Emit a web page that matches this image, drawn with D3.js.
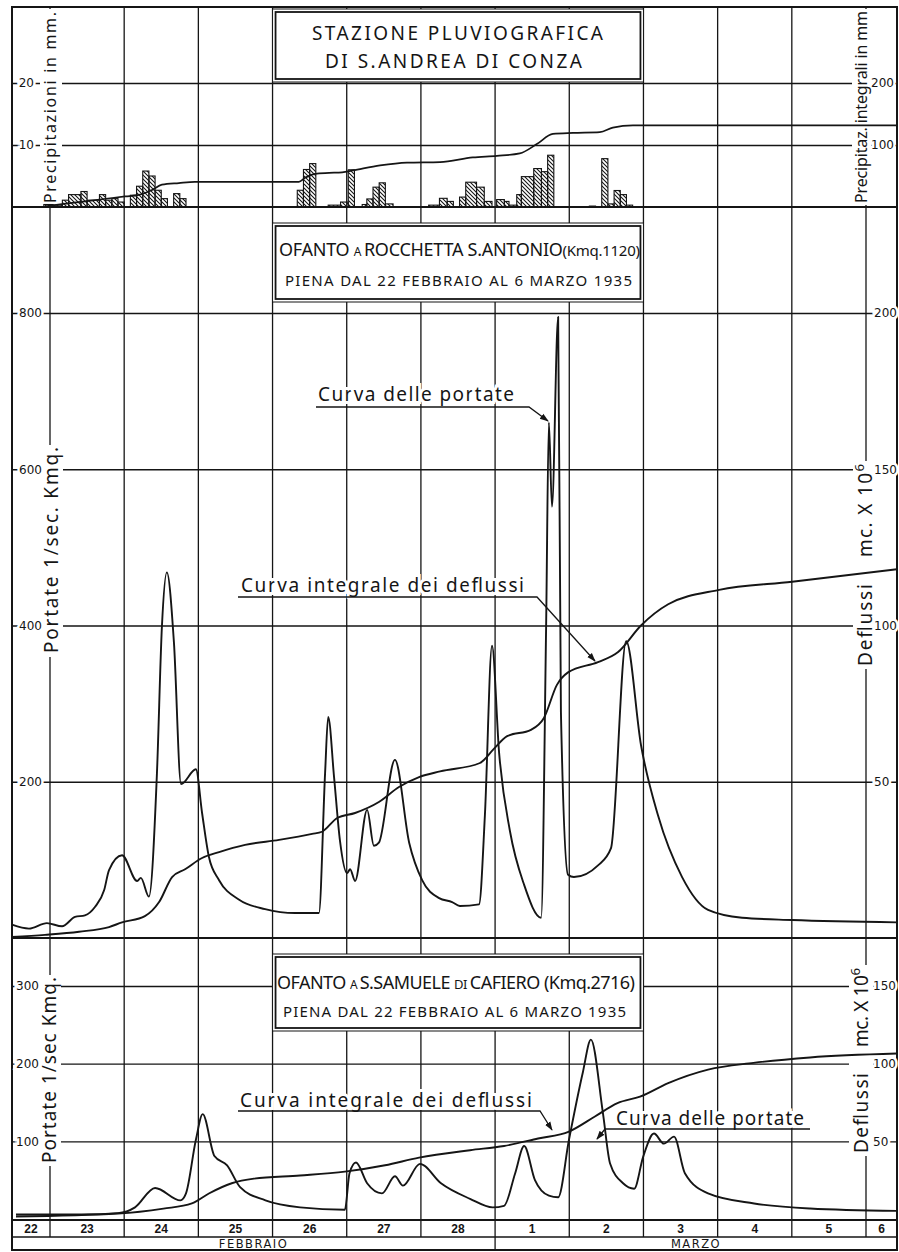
<!DOCTYPE html>
<html><head><meta charset="utf-8">
<script src="https://cdn.jsdelivr.net/npm/d3@7"></script>
<style>body{margin:0;background:#fff}svg{display:block}</style>
</head><body>
<svg id="c" width="899" height="1252"></svg>
<script>
// ---------- DATA (time in hours counted from 22 Feb 1935, 00:00) ----------
const dayLabels = ["22","23","24","25","26","27","28","1","2","3","4","5","6"];
const dayStarts = [0,24,48,72,96,120,144,168,192,216,240,264,288];
const monthLabels = ["FEBBRAIO","MARZO"];
const monthStarts = [0,168];

const rainTicks = [10,20];            // mm
const rainCumTicks = [100,200];       // mm integral
const rocchettaTicks = [200,400,600,800];     // l/sec Kmq
const rocchettaVolTicks = [50,100,150,200];   // mc x 10^6
const samueleTicks = [100,200,300];
const samueleVolTicks = [50,100,150];

// precipitation bars (S. Andrea di Conza)
const rainFrom = [22,25,28,30,34,36,40,42,44,46,50,52,54,56,58,60,64,66,104,106,108,114,118,120.5,125,126.5,128.5,130.5,132.5,146.5,150,152.5,156.5,158.5,162,164.5,168.5,171,172.5,175,176.5,180.5,183,185,198.5,202.5,204.5,206.5,208.5,210.5];
const rainTo   = [25,28,30,34,36,40,42,44,46,48,52,54,56,58,60,62,66,68,106,108,110,118,120.5,122.5,126.5,128.5,130.5,132.5,135,150,152.5,154.5,158.5,162,164.5,167,171,172.5,175,176.5,180.5,183,185,187,200.5,204.5,206.5,208.5,210.5,212.5];
const rainMm   = [0.4,0.3,1.1,2.0,2.5,1.1,2.0,1.1,1.35,0.8,1.9,3.35,5.8,5.0,2.7,1.35,2.16,1.35,2.7,6.05,7.0,0.3,0.8,6.0,0.4,1.3,3.2,3.9,0.5,0.3,1.4,0.9,1.6,4.0,3.2,0.9,1.2,0.9,0.3,2.0,4.9,6.2,5.7,8.35,0.15,7.8,0.5,2.66,2.0,0.3];

// integral precipitation
const rainCumHour = [22.4,28.5,36.6,44.1,48.3,52.8,57,60.2,65.7,70.9,104.5,106.5,109.7,114.3,118.5,122,130.8,139.5,150.2,160.8,168.6,176,181.5,186.7,193.2,201.9,206.1,212.6,298];
const rainCumMm   = [1,5,10,14.5,17,19.5,27.5,36,38.6,40.4,40.4,47,53.5,55,56,59,67,71.5,72.5,80,82.5,86.5,101.5,118,119.5,120.7,128,131.5,131.5];

// Ofanto a Rocchetta S. Antonio: discharge (l/sec Kmq)
const rocchettaFlowHour = [11.7,17.2,23,27.9,32.1,35.3,38.6,41.5,43.1,47.3,52.2,53.4,56,58.6,60.2,61.8,64.1,66.4,71.2,73.2,75.4,78.7,85.2,93.6,103.3,111,113,114,115.9,117.8,120.1,121.1,122.7,126.6,128.8,130.4,135.6,140.2,144.4,149.9,154.1,156.6,162.8,164.7,167,169.3,172.8,177.4,182.9,184.5,185.4,186.4,188.4,189.3,191.6,193.5,201.3,205.5,210.4,215.2,220.7,228.5,236.9,247.9,264.1,298];
const rocchettaFlow     = [17,12,19,15,27,29,40,61,87,106,73,77,53,211,398,468,378,197,216,160,104,74,49,37,32,32,211,283,206,125,83,88,73,164,118,122,228,122,74,51,46,41,43,157,374,237,137,68,26,396,660,552,795,289,81,78,93,115,380,247,157,78,36,26,23,20];
// integral runoff (mc x 10^6)
const rocchettaVolHour = [11.7,22.4,33.4,43.1,47.3,54.7,59.3,63.5,67.7,73.2,78.7,87.1,98.1,108.8,112,116.9,122.7,130.4,136.9,143.4,150.2,163.1,167.6,171.9,179.6,183.8,188,191.6,201.3,207.8,215.2,224,240.5,264.1,298];
const rocchettaVol     = [0.3,1,2,3.5,5,7,11.5,19.5,22,25.6,27.5,29.8,31.4,33.3,34,38.4,40,43.5,48.3,51.5,53.3,56,60.5,64.6,66.6,70.4,81,85,88.3,91.5,100,106.8,111.4,114,118];

// Ofanto a S. Samuele di Cafiero
const samueleFlowHour = [13,35,46,51.5,58,66.2,68,71.2,73.4,77.2,81.3,85.5,93.7,104.9,119.4,120.9,123,126.6,131.4,135.6,138.2,143.7,150.5,159.9,167.2,170.9,174.5,177.4,180.9,185.4,188.4,191.9,196.4,199,202.9,205.2,209.4,213,215.9,219.4,222.6,225.9,229.4,236.9,251.8,269.9,298];
const samueleFlow     = [5.8,5.8,7.5,15,40,24,33,102,135,81,69,41,24,15,12,59,72.7,46,33,55,43,71,46,26,15,17,59,94,50,30,28,102,189,231,136,71.5,46,39,80,110,97,106,59,33,20,13.5,10.4];
const samueleVolHour = [13,46,60.7,69.9,75.4,82.8,90,104.9,119.4,132.4,143.4,159.9,170.9,181.9,191.9,200.3,207.6,214.9,224,236.9,251.6,269.9,298];
const samueleVol     = [1.6,3.5,6.7,10,16.4,23,26,28,30.5,34.6,39.5,44.3,47,51.8,56.3,66,74.6,78.8,87.5,96.2,100.5,104,106.5];

// ---------- LAYOUT ----------
const ink = "#151515";
const L = 12, R = 897, T = 7, B = 1250;
const yTopBase = 207, yMidBase = 938, yDayTop = 1220, yDayMid = 1237;
const sans = "'Noto Sans','DejaVu Sans',sans-serif";

const x = d3.scaleLinear().domain([24, 288]).range([50, 866]);
const yRain = d3.scaleLinear().domain([0, 20]).range([yTopBase, 83]);
const yRainCum = d3.scaleLinear().domain([0, 200]).range([yTopBase, 83]);
const yR = d3.scaleLinear().domain([0, 800]).range([yMidBase, 313]);
const yRV = d3.scaleLinear().domain([0, 200]).range([yMidBase, 313]);
const yS = d3.scaleLinear().domain([0, 300]).range([1219, 986]);
const ySV = d3.scaleLinear().domain([0, 150]).range([1219, 986]);

const svg = d3.select("#c");
svg.append("rect").attr("width",899).attr("height",1252).attr("fill","#fff");
const defs = svg.append("defs");
const pat = defs.append("pattern").attr("id","hatch").attr("patternUnits","userSpaceOnUse").attr("width",4).attr("height",4);
pat.append("path").attr("d","M-1,-1L5,5M-1,3L1,5M3,-1L5,1").attr("stroke",ink).attr("stroke-width",1.1);
const mk = defs.append("marker").attr("id","arrow").attr("viewBox","0 0 10 10").attr("refX",9).attr("refY",5)
  .attr("markerWidth",9).attr("markerHeight",9).attr("markerUnits","userSpaceOnUse").attr("orient","auto");
mk.append("path").attr("d","M0,1.5L10,5L0,8.5Z").attr("fill",ink);

const gGrid = svg.append("g");
const gMask = svg.append("g");
const gData = svg.append("g");
const gText = svg.append("g");

// vertical day lines
gGrid.append("g").selectAll("line").data(dayStarts.filter(d => d > 0)).join("line")
  .attr("x1", d => x(d)).attr("x2", d => x(d))
  .attr("y1", T).attr("y2", d => monthStarts.includes(d) ? B : yDayMid)
  .attr("stroke", ink).attr("stroke-width", 1.3);

// horizontal grid lines through axes
function grid(scale, ticks) {
  const g = gGrid.append("g").attr("transform", `translate(${L},0)`)
    .call(d3.axisLeft(scale).tickValues(ticks).tickSize(-(R - L)).tickFormat(""));
  g.select(".domain").remove();
  g.selectAll(".tick line").attr("stroke", ink).attr("stroke-width", 1.3);
}
grid(yRain, rainTicks);
grid(yR, rocchettaTicks);
grid(yS, samueleTicks);

// panel separators
[[yTopBase,2],[yMidBase,2.2],[yDayTop,2],[yDayMid,1.6]].forEach(([yy,w]) =>
  gGrid.append("line").attr("x1",L).attr("x2",R).attr("y1",yy).attr("y2",yy).attr("stroke",ink).attr("stroke-width",w));

// white backgrounds for rotated axis titles
function mask(x0,y0,x1,y1){ gMask.append("rect").attr("x",x0).attr("y",y0).attr("width",x1-x0).attr("height",y1-y0).attr("fill","#fff"); }
mask(40,9,62,205);     // Precipitazioni
mask(852,9,871,205);   // Precipitaz. integrali
mask(39,445,63,657);   // Portate (Rocchetta)
mask(853,461,877,669); // Deflussi (Rocchetta)
mask(37,975,61,1166);  // Portate (Samuele)
mask(849,965,873,1156);// Deflussi (Samuele)

// title boxes
function box(y0,y1){
  const x0 = x(96), x1 = x(216);
  gMask.append("rect").attr("x",x0).attr("y",y0).attr("width",x1-x0).attr("height",y1-y0).attr("fill","#fff").attr("stroke",ink).attr("stroke-width",1);
  gMask.append("rect").attr("x",x0+3).attr("y",y0+3).attr("width",x1-x0-6).attr("height",y1-y0-6).attr("fill","none").attr("stroke",ink).attr("stroke-width",1.8);
}
box(9,82); box(223,302); box(954,1031);

// frame
gMask.append("rect").attr("x",L).attr("y",T).attr("width",R-L).attr("height",B-T).attr("fill","none").attr("stroke",ink).attr("stroke-width",2);

// ---------- DATA MARKS ----------
const rain = rainMm.map((v,i) => ({a: rainFrom[i], b: rainTo[i], v}));
gData.append("g").selectAll("rect").data(rain).join("rect")
  .attr("x", d => x(d.a)).attr("width", d => x(d.b) - x(d.a))
  .attr("y", d => yRain(d.v)).attr("height", d => yRain(0) - yRain(d.v))
  .attr("fill","url(#hatch)").attr("stroke",ink).attr("stroke-width",1.1);

function curve(hours, vals, ys, w) {
  const pts = hours.map((h,i) => [h, vals[i]]);
  gData.append("path").datum(pts)
    .attr("d", d3.line().x(d => x(d[0])).y(d => ys(d[1])).curve(d3.curveMonotoneX))
    .attr("fill","none").attr("stroke",ink).attr("stroke-width",w).attr("stroke-linejoin","round");
}
curve(rainCumHour, rainCumMm, yRainCum, 1.7);
curve(rocchettaFlowHour, rocchettaFlow, yR, 1.9);
curve(rocchettaVolHour, rocchettaVol, yRV, 1.9);
curve(samueleFlowHour, samueleFlow, yS, 1.9);
curve(samueleVolHour, samueleVol, ySV, 1.9);

// ---------- TICK LABELS (axes) ----------
function tickLabels(scale, ticks, xPos, side) {
  const ax = (side === "left" ? d3.axisLeft(scale) : d3.axisRight(scale)).tickValues(ticks).tickSize(0).tickPadding(0);
  const g = gText.append("g").attr("transform", `translate(${xPos},0)`).call(ax)
    .attr("font-size", 12).attr("font-family", "'DejaVu Sans',sans-serif").attr("color", ink);
  g.select(".domain").remove();
  g.selectAll("text").attr("stroke","#fff").attr("stroke-width",5).attr("paint-order","stroke").attr("fill",ink);
}
tickLabels(yRain, rainTicks, 34, "left");
tickLabels(yRainCum, rainCumTicks, 871, "right");
tickLabels(yR, rocchettaTicks, 42, "left");
tickLabels(yRV, rocchettaVolTicks, 874, "right");
tickLabels(yS, samueleTicks, 39, "left");
tickLabels(ySV, samueleVolTicks, 873, "right");

// ---------- TEXTS ----------
function txt(str, x0, yb, size, len, opts = {}) {
  const t = gText.append("text").attr("x", x0).attr("y", yb).attr("font-size", size)
    .attr("font-family", opts.family || sans).attr("fill", ink);
  if (len) t.attr("textLength", len).attr("lengthAdjust", "spacing");
  if (opts.halo) t.attr("stroke","#fff").attr("stroke-width",6).attr("paint-order","stroke");
  if (Array.isArray(str)) str.forEach(p => {
    const s = t.append("tspan").text(p.t);
    if (p.size) s.attr("font-size", p.size);
    if (p.style) s.attr("font-style", p.style);
  }); else t.text(str);
  return t;
}
function vtext(parts, xb, yStart, size, len) {
  const t = gText.append("text").attr("transform", `translate(${xb},${yStart}) rotate(-90)`)
    .attr("font-size", size).attr("font-family", sans).attr("fill", ink)
    .attr("textLength", len).attr("lengthAdjust", "spacing");
  parts.forEach(p => {
    const s = t.append("tspan").text(p.t);
    if (p.sup) s.attr("font-size", size * 0.7).attr("dy", -size * 0.4);
  });
}

// top box
txt("STAZIONE PLUVIOGRAFICA", 312, 40, 19, 291);
txt("DI S.ANDREA DI CONZA", 325, 68, 19, 257);
// middle box
txt([{t:"OFANTO "},{t:"A ",size:12},{t:"ROCCHETTA S.ANTONIO"},{t:"(Kmq.1120)",size:15}], 279, 256, 18, 361);
txt("PIENA DAL 22 FEBBRAIO AL 6 MARZO 1935", 285, 286, 15, 347);
// bottom box
txt([{t:"OFANTO "},{t:"A ",size:12},{t:"S.SAMUELE "},{t:"DI ",size:13},{t:"CAFIERO (Kmq.2716)"}], 277, 989, 18, 358);
txt("PIENA DAL 22 FEBBRAIO AL 6 MARZO 1935", 283, 1017, 15, 343);

// annotations
txt("Curva delle portate", 318, 401, 19, 196, {halo:true});
txt("Curva integrale dei deflussi", 241, 592, 19, 283, {halo:true});
txt("Curva integrale dei deflussi", 240, 1107, 19, 292, {halo:true});
txt("Curva delle portate", 616, 1125, 19, 188, {halo:true});

function leader(d) {
  gText.append("path").attr("d", d).attr("fill","none").attr("stroke",ink).attr("stroke-width",1.3).attr("marker-end","url(#arrow)");
}
leader("M316,407H529L548,421");
leader("M238,597H537L595,661");
leader("M238,1111H540L552,1130");
leader("M810,1129H605L597,1139");

// rotated axis titles
vtext([{t:"Precipitazioni in mm."}], 56, 203, 16, 191);
vtext([{t:"Precipitaz. integrali in mm"}], 867, 203, 16, 192);
vtext([{t:"Portate 1/sec. Kmq."}], 58, 653, 19, 206);
vtext([{t:"Deflussi"}], 872, 666, 19, 82);
vtext([{t:"mc. X 10"},{t:"6",sup:true}], 872, 557, 19, 93);
vtext([{t:"Portate 1/sec Kmq."}], 56, 1163, 19, 186);
vtext([{t:"Deflussi"}], 868, 1153, 19, 80);
vtext([{t:"mc. X 10"},{t:"6",sup:true}], 868, 1047, 19, 79);

// day row
const days = dayLabels.map((lab,i) => {
  const a = Math.max(x(dayStarts[i]), L), b = Math.min(x(dayStarts[i] + 24), R);
  return {lab, cx: (a + b) / 2};
});
gText.append("g").selectAll("text").data(days).join("text")
  .attr("x", d => d.cx).attr("y", 1233).attr("text-anchor","middle")
  .attr("font-size", 12).attr("font-weight","bold").attr("font-family","'Liberation Sans',sans-serif").attr("fill",ink)
  .text(d => d.lab);
// month row
const months = monthLabels.map((lab,i) => {
  const a = Math.max(x(monthStarts[i]), L), b = i + 1 < monthStarts.length ? x(monthStarts[i+1]) : R;
  return {lab, cx: (a + b) / 2};
});
gText.append("g").selectAll("text").data(months).join("text")
  .attr("x", d => d.cx).attr("y", 1247.5).attr("text-anchor","middle")
  .attr("font-size", 11.5).attr("letter-spacing", 1.5).attr("font-family","'DejaVu Sans',sans-serif").attr("fill",ink)
  .text(d => d.lab);
</script>
</body></html>
